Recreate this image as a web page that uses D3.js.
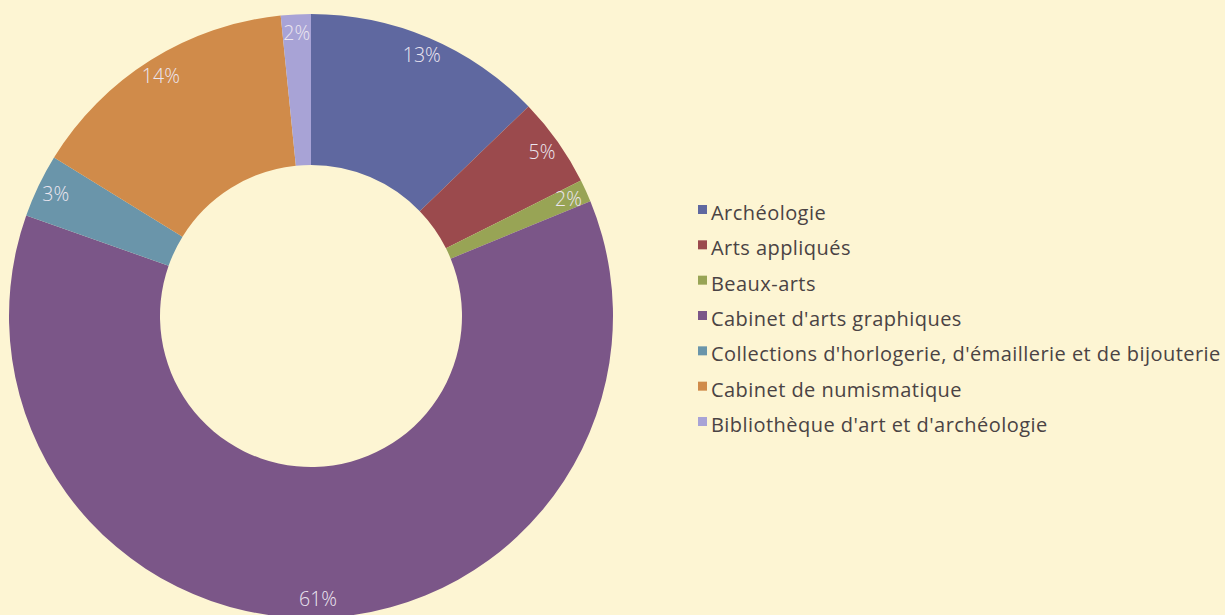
<!DOCTYPE html>
<meta charset="utf-8">
<style>
body { margin: 0; background: #fdf5d3; }
svg { display: block; }
.legend text {
  font-family: "Open Sans", sans-serif;
  font-size: 20px;
  letter-spacing: 0.45px;
  fill: #4a4344;
}
.labels text {
  font-family: "Open Sans", sans-serif;
  font-weight: 300;
  font-size: 19.5px;
  fill: #ece6f0;
}
</style>
<svg width="1225" height="615"></svg>
<script src="https://d3js.org/d3.v7.min.js"></script>
<script>

// departments, shares of the ring and printed labels
var categories = ["Archéologie", "Arts appliqués", "Beaux-arts", "Cabinet d'arts graphiques",
  "Collections d'horlogerie, d'émaillerie et de bijouterie", "Cabinet de numismatique",
  "Bibliothèque d'art et d'archéologie"];
var shares = [12.8, 4.8, 1.2, 61.6, 3.4, 14.6, 1.6];
var pctLabels = ["13%", "5%", "2%", "61%", "3%", "14%", "2%"];
var colors = ["#5f68a0", "#9b4a4d", "#98a455", "#7b5688", "#6a95aa", "#d08b4a", "#a8a3d6"];

var svg = d3.select("svg"),
    width = +svg.attr("width"),
    height = +svg.attr("height");

var cx = 311, cy = 316,
    outer = 302, inner = 151;

var data = categories.map(function(c, i) {
  return {name: c, value: shares[i], label: pctLabels[i], color: colors[i]};
});

var pie = d3.pie().sort(null).value(function(d) { return d.value; });
var arc = d3.arc().innerRadius(inner).outerRadius(outer);
var labelArc = d3.arc().innerRadius(283).outerRadius(283);

var g = svg.append("g").attr("transform", "translate(" + cx + "," + cy + ")");

var arcs = pie(data);

g.selectAll("path")
  .data(arcs)
  .enter().append("path")
    .attr("d", arc)
    .attr("fill", function(d) { return d.data.color; });

g.append("g")
  .attr("class", "labels")
  .selectAll("text")
  .data(arcs)
  .enter().append("text")
    .attr("transform", function(d) { return "translate(" + labelArc.centroid(d) + ")"; })
    .attr("text-anchor", "middle")
    .attr("dy", "0.35em")
    .text(function(d) { return d.data.label; });

// legend
var legend = svg.append("g")
  .attr("class", "legend")
  .attr("transform", "translate(698,0)");

var y = d3.scalePoint().domain(categories).range([213, 425]);

var rows = legend.selectAll("g")
  .data(data)
  .enter().append("g")
    .attr("transform", function(d) { return "translate(0," + y(d.name) + ")"; });

rows.append("rect")
  .attr("x", 0)
  .attr("y", -8)
  .attr("width", 9)
  .attr("height", 9)
  .attr("fill", function(d) { return d.color; });

rows.append("text")
  .attr("x", 13)
  .attr("y", 7)
  .text(function(d) { return d.name; });

</script>
